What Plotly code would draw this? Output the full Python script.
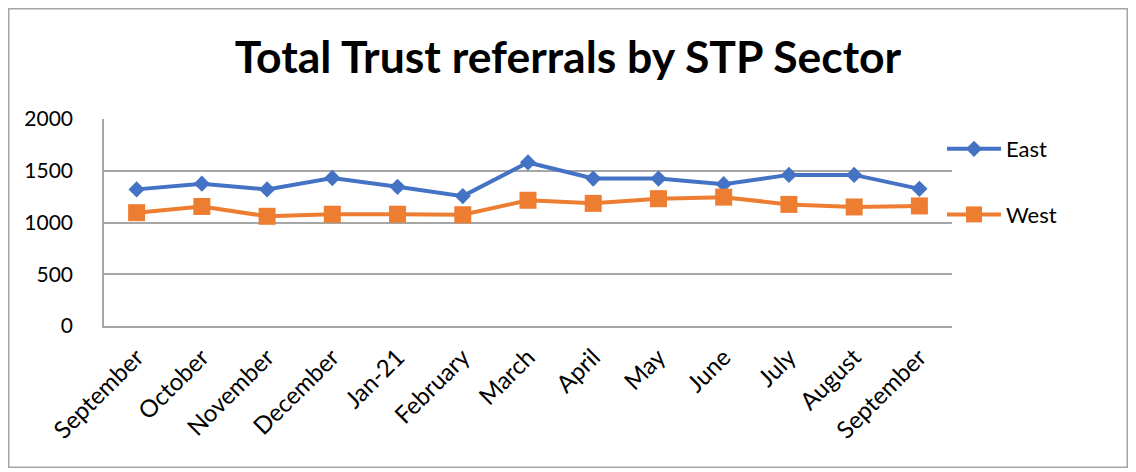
import plotly.graph_objects as go

months = ["September", "October", "November", "December", "Jan-21", "February",
          "March", "April", "May", "June", "July", "August", "September"]
east = [1320, 1375, 1320, 1430, 1345, 1255, 1580, 1425, 1425, 1370, 1460, 1460, 1325]
west = [1095, 1155, 1060, 1080, 1080, 1075, 1215, 1185, 1230, 1245, 1175, 1150, 1160]

FONT = "Lato"
pos = list(range(len(months)))

fig = go.Figure()
fig.add_trace(go.Scatter(
    x=pos, y=east, name="East", mode="lines+markers", legendgroup="e",
    line=dict(color="#4472C4", width=4),
    marker=dict(symbol="diamond", size=12.5, color="#4472C4")))
fig.add_trace(go.Scatter(
    x=pos, y=west, name="West", mode="lines+markers", legendgroup="w",
    line=dict(color="#ED7D31", width=4),
    marker=dict(symbol="square", size=17, color="#ED7D31")))

# figure is drawn with an 8px page offset
W, H = 1120, 460
L, R, T, B = 96, 944, 111, 318
pw, ph = R - L, B - T

def px(xp):
    return (xp - L) / pw

def py(yp):
    return (B - yp) / ph

fig.update_layout(
    width=W, height=H,
    margin=dict(l=L, r=W - R, t=T, b=H - B, pad=0),
    paper_bgcolor="white", plot_bgcolor="white",
    font=dict(family=FONT, size=21, color="#000000"),
    title=dict(text="<b>Total Trust referrals by STP Sector</b>",
               font=dict(family=FONT, size=44.5, color="#000000"),
               x=0.5, xanchor="center", xref="container",
               y=1 - 49 / H, yanchor="middle"),
    xaxis=dict(range=[-0.5, len(months) - 0.5], tickvals=pos, ticktext=months,
               tickangle=-45, showgrid=False, zeroline=False,
               showline=True, linecolor="#A6A6A6", linewidth=1.5,
               ticks="", ticklabelstandoff=6, tickfont=dict(size=24)),
    yaxis=dict(range=[0, 2000], tickvals=[0, 500, 1000, 1500, 2000],
               showgrid=True, gridcolor="#A6A6A6", gridwidth=1.5,
               zeroline=False, showline=True, linecolor="#A6A6A6", linewidth=1.5,
               ticks="", ticklabelstandoff=25, tickfont=dict(size=21)),
    legend=dict(x=px(934), xanchor="left", y=py(120), yanchor="top",
                font=dict(size=22), tracegroupgap=34, itemwidth=54,
                bgcolor="rgba(0,0,0,0)"),
    shapes=[dict(type="rect", xref="paper", yref="paper",
                 x0=px(0.75), x1=px(W - 0.75), y0=py(H - 0.75), y1=py(0.75),
                 line=dict(color="#A6A6A6", width=1.5), layer="below")],
)

fig.write_html("out.html")
